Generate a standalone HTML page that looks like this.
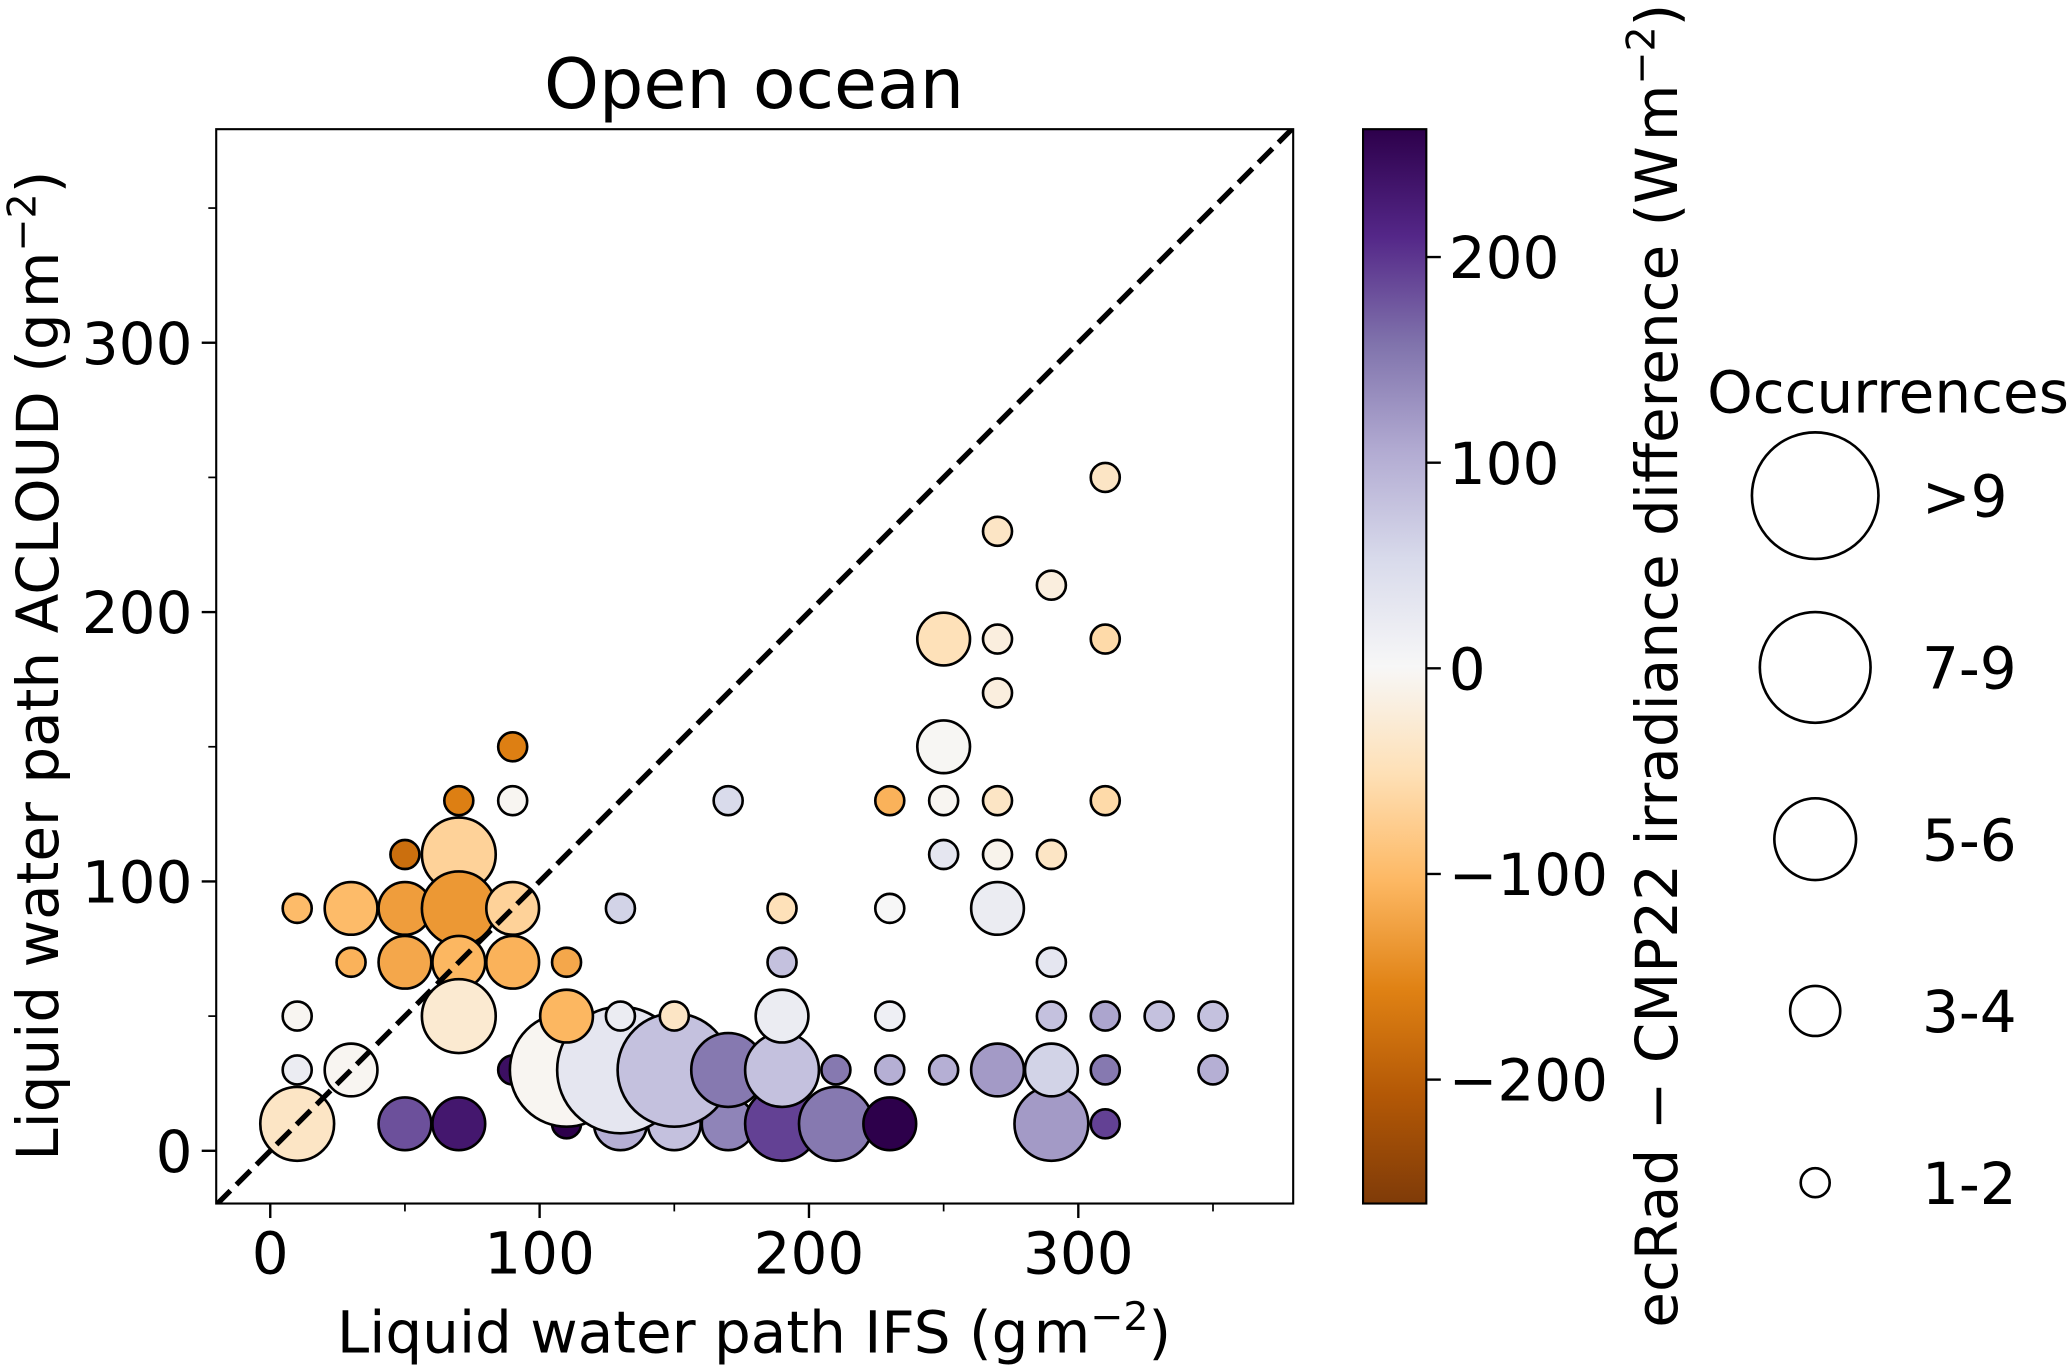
<!DOCTYPE html>
<html><head><meta charset="utf-8"><style>
html,body{margin:0;padding:0;background:#fff}
svg{display:block;font-family:"DejaVu Sans","Liberation Sans",sans-serif}
</style></head><body>
<svg id="chart" width="2067" height="1365" viewBox="0 0 1568 1035.5" xmlns="http://www.w3.org/2000/svg">
<defs>
<linearGradient id="cbgrad" x1="0" y1="1" x2="0" y2="0">
<stop offset="0" stop-color="#7f3b08"/><stop offset="0.1" stop-color="#b35806"/><stop offset="0.2" stop-color="#e08214"/><stop offset="0.3" stop-color="#fdb863"/><stop offset="0.4" stop-color="#fee0b6"/><stop offset="0.5" stop-color="#f7f7f7"/><stop offset="0.6" stop-color="#d8daeb"/><stop offset="0.7" stop-color="#b2abd2"/><stop offset="0.8" stop-color="#8073ac"/><stop offset="0.9" stop-color="#542788"/><stop offset="1" stop-color="#2d004b"/>
</linearGradient>
<clipPath id="plotclip"><rect x="164" y="98" width="817" height="815"/></clipPath>
</defs>
<text x="572" y="82" font-size="53" text-anchor="middle">Open ocean</text>
<g id="marks" clip-path="url(#plotclip)"></g>
<g id="axes"></g>
<rect x="164" y="98" width="817" height="815" fill="none" stroke="#000" stroke-width="1.6"/>
<text x="572" y="1026" font-size="44" text-anchor="middle">Liquid water path IFS (g<tspan dx="4">m</tspan><tspan font-size="30" dy="-17">−2</tspan><tspan dy="17">)</tspan></text>
<text transform="translate(44,505) rotate(-90)" font-size="44" text-anchor="middle">Liquid water path ACLOUD (g<tspan dx="4">m</tspan><tspan font-size="30" dy="-17">−2</tspan><tspan dy="17">)</tspan></text>
<rect x="1034" y="98" width="48" height="815" fill="url(#cbgrad)" stroke="#000" stroke-width="1.6"/>
<g id="cbticks"></g>
<text transform="translate(1272,505) rotate(-90)" font-size="44" text-anchor="middle">ecRad − CMP22 irradiance difference (W<tspan dx="4">m</tspan><tspan font-size="30" dy="-17">−2</tspan><tspan dy="17">)</tspan></text>
<text x="1295" y="313" font-size="44">Occurrences</text>
<g id="legend"></g>
</svg>
<script>
const xs = [90,70,90,170,230,250,270,310,50,70,250,270,290,10,30,50,70,90,130,190,230,270,30,50,70,90,110,190,290,10,70,110,130,150,190,230,290,310,330,350,250,270,310,270,250,290,270,310];
const ys = [150,130,130,130,130,130,130,130,110,110,110,110,110,90,90,90,90,90,90,90,90,90,70,70,70,70,70,70,70,50,50,50,50,50,50,50,50,50,50,50,190,190,190,170,150,210,230,250];
const sizes = [1,1,1,1,1,1,1,1,1,3,1,1,1,1,2,2,3,2,1,1,1,2,1,2,2,2,1,1,1,1,3,2,1,1,2,1,1,1,1,1,2,1,1,1,2,1,1,1];
const vals = [-160,-160,-5,50,-110,-5,-40,-60,-180,-70,30,-10,-40,-100,-100,-130,-135,-70,60,-50,0,20,-110,-120,-105,-110,-120,80,30,-5,-30,-105,20,-40,20,15,80,110,80,80,-50,-20,-60,-20,-3,-20,-40,-40];
const lowXs = [110,90,10,50,70,130,150,170,190,210,230,290,310,10,30,110,130,150,170,190,210,230,250,270,290,310,350];
const lowYs = [10,30,10,10,10,10,10,10,10,10,10,10,10,30,30,30,30,30,30,30,30,30,30,30,30,30,30];
const lowSizes = [1,1,3,2,2,2,2,2,3,3,2,3,1,1,2,4,5,4,3,3,1,1,1,2,2,1,1];
const lowVals = [260,240,-40,180,230,100,80,140,190,150,260,120,190,20,-5,-5,30,80,150,80,150,100,100,120,60,150,100];
const xTicks = [0,100,200,300];
const yTicks = [0,100,200,300];
const minorTicks = [50,150,250,350];
const cbTicks = [-200,-100,0,100,200];
const legendLabels = [">9","7-9","5-6","3-4","1-2"];
const legendSizes = [5,4,3,2,1];

const NS="http://www.w3.org/2000/svg";
const X=v=>205+(v)*613/300, Y=v=>873-(v)*613/300;
const R=[0,11,20,28,43,48];
const CB=v=>507-v*1.56;
const stops=[[0,[127,59,8]],[0.1,[179,88,6]],[0.2,[224,130,20]],[0.3,[253,184,99]],[0.4,[254,224,182]],[0.5,[247,247,247]],[0.6,[216,218,235]],[0.7,[178,171,210]],[0.8,[128,115,172]],[0.9,[84,39,136]],[1,[45,0,75]]];
function col(v){let t=(v+260)/520;t=Math.max(0,Math.min(1,t));
 for(let i=1;i<stops.length;i++){if(t<=stops[i][0]){const a=stops[i-1],b=stops[i],f=(t-a[0])/(b[0]-a[0]);
  return 'rgb('+a[1].map((c,k)=>Math.round(c+(b[1][k]-c)*f)).join(',')+')';}}return 'rgb(45,0,75)';}
function mk(tag,at,parent){const e=document.createElementNS(NS,tag);for(const k in at)e.setAttribute(k,at[k]);parent.appendChild(e);return e;}
const marks=document.getElementById('marks');
function drawPts(ax,ay,as,av){for(let i=0;i<ax.length;i++){
 const c=mk('circle',{cx:X(ax[i]),cy:Y(ay[i]),r:R[as[i]],fill:col(av[i]),stroke:'#000','stroke-width':2},marks);
 
 }}
drawPts(lowXs,lowYs,lowSizes,lowVals);
drawPts(xs,ys,sizes,vals);
const dl=mk('line',{x1:X(-20),y1:Y(-20),x2:X(380),y2:Y(380),stroke:'#000','stroke-width':4,'stroke-dasharray':'15,6.5'},marks);


const axes=document.getElementById('axes');
xTicks.forEach(v=>{
 const l=mk('line',{x1:X(v),y1:913,x2:X(v),y2:924,stroke:'#000','stroke-width':1.8},axes);
 
 
 const t=mk('text',{x:X(v),y:966,'font-size':44,'text-anchor':'middle'},axes);t.textContent=v;
 
 });
yTicks.forEach(v=>{
 const l=mk('line',{x1:153,y1:Y(v),x2:164,y2:Y(v),stroke:'#000','stroke-width':1.8},axes);
 
 
 const t=mk('text',{x:146,y:Y(v)+16,'font-size':44,'text-anchor':'end'},axes);t.textContent=v;
 
 });
minorTicks.forEach(v=>{
 const a=mk('line',{x1:X(v),y1:913,x2:X(v),y2:919,stroke:'#000','stroke-width':1.3},axes);
 
 
 const b=mk('line',{x1:158,y1:Y(v),x2:164,y2:Y(v),stroke:'#000','stroke-width':1.3},axes);
 
 });
const cbt=document.getElementById('cbticks');
cbTicks.forEach(v=>{
 const l=mk('line',{x1:1082,y1:CB(v),x2:1093,y2:CB(v),stroke:'#000','stroke-width':1.8},cbt);
 
 
 const t=mk('text',{x:1099,y:CB(v)+16,'font-size':44},cbt);t.textContent=(v<0?'−':'')+Math.abs(v);
 
 });
const lg=document.getElementById('legend');
const legR=[0,11,19,31,42,48];
legendLabels.forEach((s,i)=>{const cy=376+i*130.3;
 const c=mk('circle',{cx:1377,cy:cy,r:legR[legendSizes[i]],fill:'#fff',stroke:'#000','stroke-width':2},lg);
 
 
 const t=mk('text',{x:1458,y:cy+16,'font-size':44},lg);t.textContent=s;
 
 });
</script>
</body></html>
